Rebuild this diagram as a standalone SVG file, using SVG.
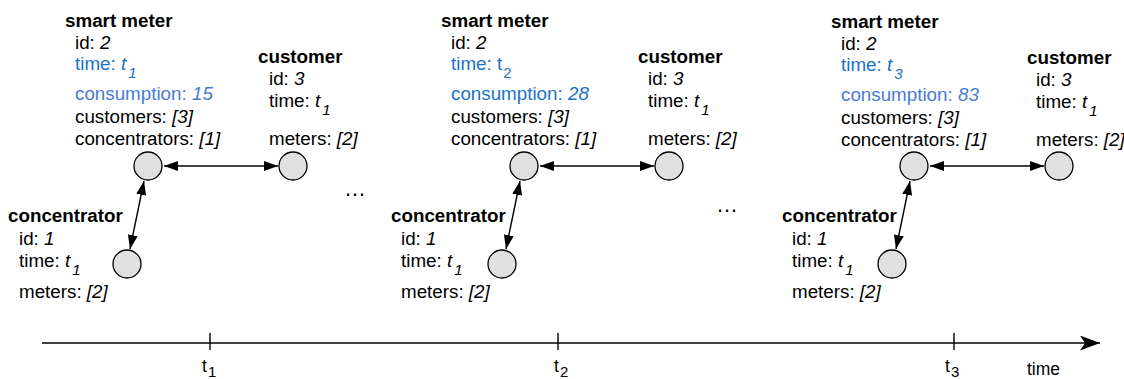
<svg xmlns="http://www.w3.org/2000/svg" width="1124" height="379" viewBox="0 0 1124 379">
<style>
text{font-family:"Liberation Sans",Arial,Helvetica,sans-serif;font-size:18.8px;fill:#000}
.b{font-weight:bold}
.i{font-style:italic}
.sub{font-size:15px}
.blue{fill:#1a73c8}
.lblue{fill:#4a7bd2}
circle{fill:#e0e0e0;stroke:#000;stroke-width:1.3}
.conn line{stroke:#000;stroke-width:1.4;marker-start:url(#ah);marker-end:url(#ah)}
.axis line{stroke:#000;stroke-width:1.4}
.tl{font-size:17.5px}
.dots{font-size:22px}
</style>
<defs>
<marker id="ah" markerUnits="userSpaceOnUse" markerWidth="15" markerHeight="11" refX="14" refY="5" orient="auto-start-reverse">
<path d="M0,0 L14,5 L0,10 z" fill="#000"/>
</marker>
<marker id="stealth" markerUnits="userSpaceOnUse" markerWidth="21" markerHeight="16" refX="20" refY="7.5" orient="auto">
<path d="M0,0 L20,7.5 L0,15 L5,7.5 z" fill="#000"/>
</marker>
</defs>

<!-- Panel 1 -->
<g id="smartmeter1">
<text class="b" x="65" y="27">smart meter</text>
<text x="75" y="48.5">id: <tspan class="i">2</tspan></text>
<text class="blue" x="75" y="70">time: <tspan class="i">t</tspan><tspan class="i sub" dx="2" dy="8">1</tspan></text>
<text class="lblue" x="75" y="100">consumption: <tspan class="i">15</tspan></text>
<text x="75" y="122.5">customers: <tspan class="i">[3]</tspan></text>
<text x="75" y="145">concentrators: <tspan class="i">[1]</tspan></text>
<circle cx="148" cy="166" r="14"/>
</g>
<g id="customer1">
<text class="b" x="258" y="63">customer</text>
<text x="269" y="85">id: <tspan class="i">3</tspan></text>
<text x="269" y="107">time: <tspan class="i">t</tspan><tspan class="i sub" dx="2" dy="8">1</tspan></text>
<text x="269" y="145">meters: <tspan class="i">[2]</tspan></text>
<circle cx="293" cy="166" r="14"/>
</g>
<g id="concentrator1">
<text class="b" x="8" y="222">concentrator</text>
<text x="19" y="245">id: <tspan class="i">1</tspan></text>
<text x="19" y="267">time: <tspan class="i">t</tspan><tspan class="i sub" dx="2" dy="8">1</tspan></text>
<text x="19" y="298">meters: <tspan class="i">[2]</tspan></text>
<circle cx="127" cy="264" r="14"/>
</g>

<!-- Panel 2 -->
<g id="smartmeter2">
<text class="b" x="441" y="27">smart meter</text>
<text x="451" y="48.5">id: <tspan class="i">2</tspan></text>
<text class="blue" x="451" y="70">time: t<tspan class="sub" dx="1" dy="8">2</tspan></text>
<text class="blue" x="451" y="100">consumption: <tspan class="i">28</tspan></text>
<text x="451" y="122.5">customers: <tspan class="i">[3]</tspan></text>
<text x="451" y="145">concentrators: <tspan class="i">[1]</tspan></text>
<circle cx="524" cy="166" r="14"/>
</g>
<g id="customer2">
<text class="b" x="638" y="63">customer</text>
<text x="648" y="85">id: <tspan class="i">3</tspan></text>
<text x="648" y="107">time: <tspan class="i">t</tspan><tspan class="i sub" dx="2" dy="8">1</tspan></text>
<text x="648" y="145">meters: <tspan class="i">[2]</tspan></text>
<circle cx="669" cy="166" r="14"/>
</g>
<g id="concentrator2">
<text class="b" x="391" y="222">concentrator</text>
<text x="401" y="245">id: <tspan class="i">1</tspan></text>
<text x="401" y="267">time: <tspan class="i">t</tspan><tspan class="i sub" dx="2" dy="8">1</tspan></text>
<text x="401" y="298">meters: <tspan class="i">[2]</tspan></text>
<circle cx="502" cy="264" r="14"/>
</g>

<!-- Panel 3 -->
<g id="smartmeter3">
<text class="b" x="831" y="28">smart meter</text>
<text x="841" y="49.5">id: <tspan class="i">2</tspan></text>
<text class="blue" x="841" y="71">time: <tspan class="i">t</tspan><tspan class="i sub" dx="2" dy="8">3</tspan></text>
<text class="lblue" x="841" y="101">consumption: <tspan class="i">83</tspan></text>
<text x="841" y="123.5">customers: <tspan class="i">[3]</tspan></text>
<text x="841" y="146">concentrators: <tspan class="i">[1]</tspan></text>
<circle cx="914" cy="166" r="14"/>
</g>
<g id="customer3">
<text class="b" x="1027" y="64">customer</text>
<text x="1036" y="86">id: <tspan class="i">3</tspan></text>
<text x="1036" y="108">time: <tspan class="i">t</tspan><tspan class="i sub" dx="2" dy="8">1</tspan></text>
<text x="1036" y="146">meters: <tspan class="i">[2]</tspan></text>
<circle cx="1059" cy="166" r="14"/>
</g>

<g id="concentrator3">
<text class="b" x="782" y="222">concentrator</text>
<text x="792" y="245">id: <tspan class="i">1</tspan></text>
<text x="792" y="267">time: <tspan class="i">t</tspan><tspan class="i sub" dx="2" dy="8">1</tspan></text>
<text x="792" y="298">meters: <tspan class="i">[2]</tspan></text>
<circle cx="892" cy="264" r="14"/>
</g>

<!-- ellipses -->
<text class="dots" x="344" y="196">…</text>
<text class="dots" x="716" y="212">…</text>

<!-- connectors -->
<g id="connectors" class="conn">
<line x1="164" y1="166" x2="278" y2="166"/>
<line x1="144" y1="181" x2="130" y2="249"/>
<line x1="540" y1="166" x2="654" y2="166"/>
<line x1="520" y1="181" x2="506" y2="249"/>
<line x1="930" y1="166" x2="1044" y2="166"/>
<line x1="910" y1="181" x2="896" y2="249"/>
</g>

<!-- timeline -->
<g id="timeline" class="axis">
<line x1="42" y1="343" x2="1100" y2="343" marker-end="url(#stealth)"/>
<line x1="210" y1="333" x2="210" y2="350"/>
<line x1="558" y1="333" x2="558" y2="350"/>
<line x1="954" y1="333" x2="954" y2="350"/>
<text class="tl" x="202" y="372">t<tspan class="sub" dx="1" dy="5">1</tspan></text>
<text class="tl" x="554" y="372">t<tspan class="sub" dx="1" dy="5">2</tspan></text>
<text class="tl" x="945" y="372">t<tspan class="sub" dx="1" dy="5">3</tspan></text>
<text class="tl" x="1027" y="375">time</text>
</g>
</svg>
